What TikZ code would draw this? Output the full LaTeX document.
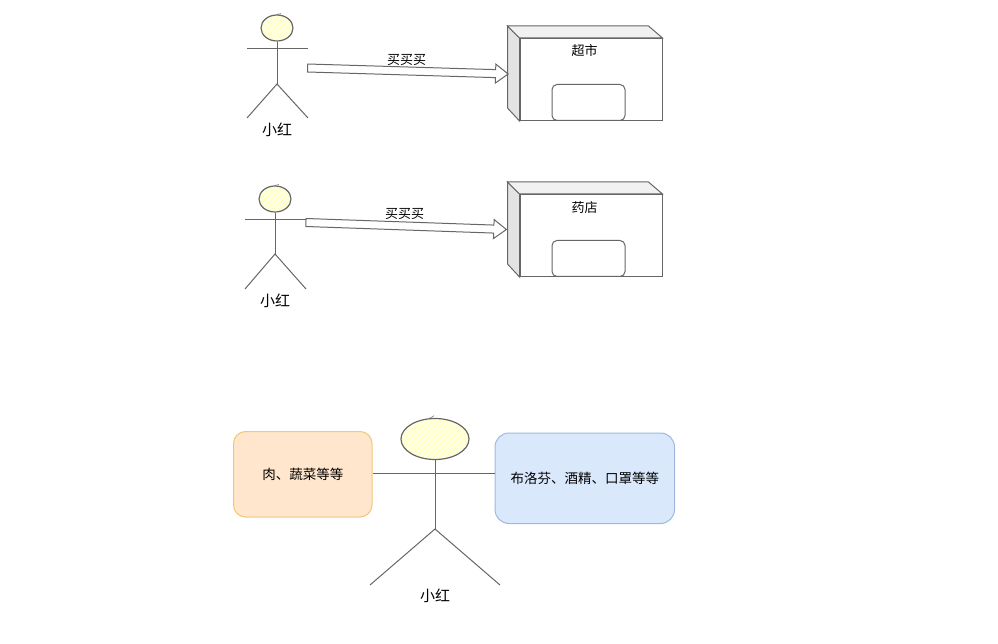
\documentclass[tikz,border=0pt]{standalone}
\usepackage{xcolor}
\usepackage{fontspec}
\setmainfont{Noto Sans CJK SC}
\usepackage{tikz}
\usetikzlibrary{positioning,patterns,shapes.geometric,shapes.arrows}

\definecolor{linegray}{HTML}{666666}
\definecolor{headyellow}{HTML}{FFFFC4}
\definecolor{sidegray}{HTML}{E3E3E3}
\definecolor{topgray}{HTML}{F1F1F1}
\definecolor{meatfill}{HTML}{FFE6CC}
\definecolor{meatline}{HTML}{F2C777}
\definecolor{drugfill}{HTML}{DAE8FC}
\definecolor{drugline}{HTML}{A0B8DC}

\begin{document}
\begin{tikzpicture}[x=1pt, y=-1pt, line width=1pt, font=\fontsize{13}{15}\selectfont,
    stroke/.style={draw=linegray},
    head/.style={ellipse, stroke, line width=1.2pt, inner sep=0pt, preaction={fill=headyellow},
        pattern=north east lines, pattern color=white},
    smallhead/.style={head, minimum width=32pt, minimum height=26pt},
    personname/.style={font=\fontsize{15}{17}\selectfont, inner sep=0pt},
    shopfront/.style={rectangle, stroke, fill=white, minimum width=142pt, minimum height=82pt, inner sep=0pt},
    door/.style={rectangle, stroke, rounded corners=5pt, minimum width=73pt, minimum height=36pt, inner sep=0pt},
    buy/.style={single arrow, stroke, fill=white, inner xsep=0pt, inner ysep=3.5pt, minimum width=18pt, minimum height=200.6pt,
        single arrow head extend=5.5pt, single arrow tip angle=74, sloped, anchor=center, pos=0.4875},
    goods/.style={rectangle, inner sep=0pt, line width=1pt, font=\fontsize{13.5}{15}\selectfont},
    tick/.style={stroke, line width=0.5pt},
    ]
    \useasboundingbox (0,0) rectangle (998,644);

    \node[smallhead] (headA) at (277,28) {};
    \coordinate (hipA) at (277,84);
    \coordinate (handAl) at (247,49);
    \coordinate (handAr) at (308,49);
    \coordinate (footAl) at (247,118);
    \coordinate (footAr) at (308,118);
    \node[personname] (nameA) at (277,130) {小红};
    \draw[tick] (headA.north) -- ++(4,-0.8);
    \draw[stroke] (handAl) -- (handAr);
    \draw[stroke] (headA.south) -- (hipA);
    \draw[stroke] (footAl) -- (hipA) -- (footAr);

    \node[shopfront] (frontA) at (591,79.5) {};
    \draw[stroke, fill=sidegray] (frontA.north west) -- ++(-12,-12) -- ++(0,82) -- (frontA.south west) -- cycle;
    \draw[stroke, fill=topgray] (frontA.north west) -- ++(-12,-12) -- ++(141,0) -- (frontA.north east) -- cycle;
    \node[door] (doorA) at (588.5,102.5) {};
    \node (shopA) at (584.5,51) {超市};
    \coordinate (startA) at (307.5,68);
    \coordinate (tipA) at (508,74);
    \path (startA) -- node[buy] (arrowA) {} (tipA);
    \node[inner sep=0pt] (buyA) at (406.5,59.5) {买买买};

    \node[smallhead] (headB) at (275,199) {};
    \coordinate (hipB) at (275,254);
    \coordinate (handBl) at (245,220);
    \coordinate (handBr) at (306,220);
    \coordinate (footBl) at (245,289);
    \coordinate (footBr) at (306,289);
    \node[personname] (nameB) at (275,301) {小红};
    \draw[tick] (headB.north) -- ++(4,-0.8);
    \draw[stroke] (handBl) -- (handBr);
    \draw[stroke] (headB.south) -- (hipB);
    \draw[stroke] (footBl) -- (hipB) -- (footBr);

    \node[shopfront] (frontB) at (591,235.5) {};
    \draw[stroke, fill=sidegray] (frontB.north west) -- ++(-12,-12) -- ++(0,82) -- (frontB.south west) -- cycle;
    \draw[stroke, fill=topgray] (frontB.north west) -- ++(-12,-12) -- ++(141,0) -- (frontB.north east) -- cycle;
    \node[door] (doorB) at (588.5,258.5) {};
    \node (shopB) at (584.5,208) {药店};
    \coordinate (startB) at (306,222.5);
    \coordinate (tipB) at (506,229.5);
    \path (startB) -- node[buy] (arrowB) {} (tipB);
    \node[inner sep=0pt] (buyB) at (404.5,213.5) {买买买};

    \node[head, minimum width=68pt, minimum height=41pt] (headC) at (435,439) {};
    \coordinate (neckC) at (435,473);
    \coordinate (hipC) at (435,529);
    \coordinate (footCl) at (370,585);
    \coordinate (footCr) at (500,585);
    \node[personname] (nameC) at (435,596) {小红};
    \node[goods, rounded corners=12pt, fill=meatfill, draw=meatline, minimum width=138.5pt, minimum height=85.5pt] (meat) at (302.75,474.25) {肉、蔬菜等等};
    \node[goods, rounded corners=14pt, fill=drugfill, draw=drugline, minimum width=179.5pt, minimum height=90.5pt] (drug) at (584.75,478.25) {布洛芬、酒精、口罩等等};
    \draw[tick] (headC.north) ++(-6,0.8) -- ++(5,-3);
    \draw[stroke] (meat.east |- neckC) -- (drug.west |- neckC);
    \draw[stroke] (headC.south) -- (hipC);
    \draw[stroke] (footCl) -- (hipC) -- (footCr);
\end{tikzpicture}
\end{document}
